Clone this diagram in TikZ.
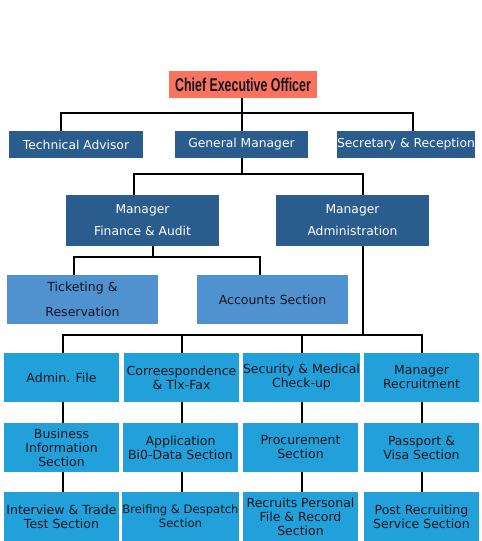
\documentclass[tikz,border=0pt]{standalone}
\usepackage{fontspec}
\setmainfont{DejaVu Sans}
\newfontfamily\ceofont[FakeStretch=0.67]{Liberation Sans}
\definecolor{salmon}{HTML}{F9735F}
\definecolor{darkblue}{HTML}{2A5C8E}
\definecolor{midblue}{HTML}{5091D0}
\definecolor{cyanblue}{HTML}{21A0DA}
\definecolor{ink}{HTML}{15151F}
\begin{document}
\begin{tikzpicture}[x=1pt,y=-1pt,
  box/.style={rectangle, inner sep=0pt, align=center, font=\fontsize{12.3}{14}\selectfont},
  topbox/.style={box, fill=darkblue, text=white, minimum height=27pt},
  mgrbox/.style={box, fill=darkblue, text=white, minimum width=153pt, minimum height=51pt, font=\fontsize{12.3}{22}\selectfont},
  midbox/.style={box, fill=midblue, text=ink, minimum width=151pt, minimum height=49pt, font=\fontsize{12.5}{25}\selectfont},
  secbox/.style={box, fill=cyanblue, text=ink, minimum width=115pt, minimum height=49pt, font=\fontsize{12.5}{14}\selectfont},
  link/.style={draw=black, line width=1.3pt}]
\useasboundingbox (0,0) rectangle (482,541);
% top
\node[box, fill=salmon, text=ink, minimum width=148pt, minimum height=27pt, font=\ceofont\bfseries\fontsize{18.5}{20}\selectfont] (ceo) at (243,84.5) {Chief Executive Officer};
\node[topbox, minimum width=134pt] (ta) at (76,144.5) {Technical Advisor};
\node[topbox, minimum width=133pt] (gm) at (241.5,144.5) {General Manager};
\node[topbox, minimum width=134pt] (sr) at (406,144.5) {Secretary \& Reception};
% managers
\node[mgrbox] (mfa) at (142.5,220.5) {Manager\\Finance \& Audit};
\node[mgrbox] (mad) at (352.5,220.5) {Manager\\Administration};
% finance sections
\node[midbox] (tr) at (82.5,299.5) {Ticketing \&\\Reservation};
\node[midbox] (acc) at (272.5,299.5) {Accounts Section};
% admin sections row 1
\node[secbox] (a1) at (61.5,377.5) {Admin. File};
\node[secbox] (b1) at (181.5,377.5) {Correespondence\\\& Tlx-Fax};
\node[secbox] (c1) at (301.5,377.5) {Security \& Medical\\Check-up};
\node[secbox] (d1) at (421.5,377.5) {Manager\\Recruitment};
% row 2
\node[secbox] (a2) at (61.5,447.5) {Business\\Information\\Section};
\node[secbox] (b2) at (180.5,447.5) {Application\\Bi0-Data Section};
\node[secbox] (c2) at (300.5,447.5) {Procurement\\Section};
\node[secbox] (d2) at (421.5,447.5) {Passport \&\\Visa Section};
% row 3
\node[secbox] (a3) at (61.5,516.5) {Interview \& Trade\\Test Section};
\node[secbox, font=\fontsize{11.6}{14}\selectfont] (b3) at (180.5,516.5) {Breifing \& Despatch\\Section};
\node[secbox] (c3) at (300.5,516.5) {Recruits Personal\\File \& Record\\Section};
\node[secbox] (d3) at (421.5,516.5) {Post Recruiting\\Service Section};
% connector points
\coordinate (j1) at (242,113);
\coordinate (taT) at (61,131);
\coordinate (srT) at (413,131);
\coordinate (gmB) at (242,158);
\coordinate (j2) at (242,174);
\coordinate (mfaT) at (134,195);
\coordinate (madT) at (363,195);
\coordinate (mfaB) at (153,246);
\coordinate (j3) at (153,257);
\coordinate (trT) at (74,275);
\coordinate (accT) at (260,275);
\coordinate (madB) at (363,246);
\coordinate (j4) at (363,335);
\coordinate (a1T) at (63,353);
\coordinate (b1T) at (182,353);
\coordinate (c1T) at (302,353);
\coordinate (d1T) at (422,353);
% connectors
\draw[link] (ceo.south -| j1) -- (j1);
\draw[link] (taT) |- (j1) -| (srT);
\draw[link] (j1) -- (gm.north -| j1);
\draw[link] (gmB) -- (j2);
\draw[link] (mfaT) |- (j2) -| (madT);
\draw[link] (mfaB) -- (j3);
\draw[link] (trT) |- (j3) -| (accT);
\draw[link] (madB) -- (j4);
\draw[link] (a1T) |- (j4) -| (d1T);
\draw[link] (b1T) -- (b1T |- j4);
\draw[link] (c1T) -- (c1T |- j4);
\draw[link] (a1.south -| a1T) -- (a2.north -| a1T);
\draw[link] (b1.south -| b1T) -- (b2.north -| b1T);
\draw[link] (c1.south -| c1T) -- (c2.north -| c1T);
\draw[link] (d1.south -| d1T) -- (d2.north -| d1T);
\draw[link] (a2.south -| a1T) -- (a3.north -| a1T);
\draw[link] (b2.south -| b1T) -- (b3.north -| b1T);
\draw[link] (c2.south -| c1T) -- (c3.north -| c1T);
\draw[link] (d2.south -| d1T) -- (d3.north -| d1T);
\end{tikzpicture}
\end{document}
